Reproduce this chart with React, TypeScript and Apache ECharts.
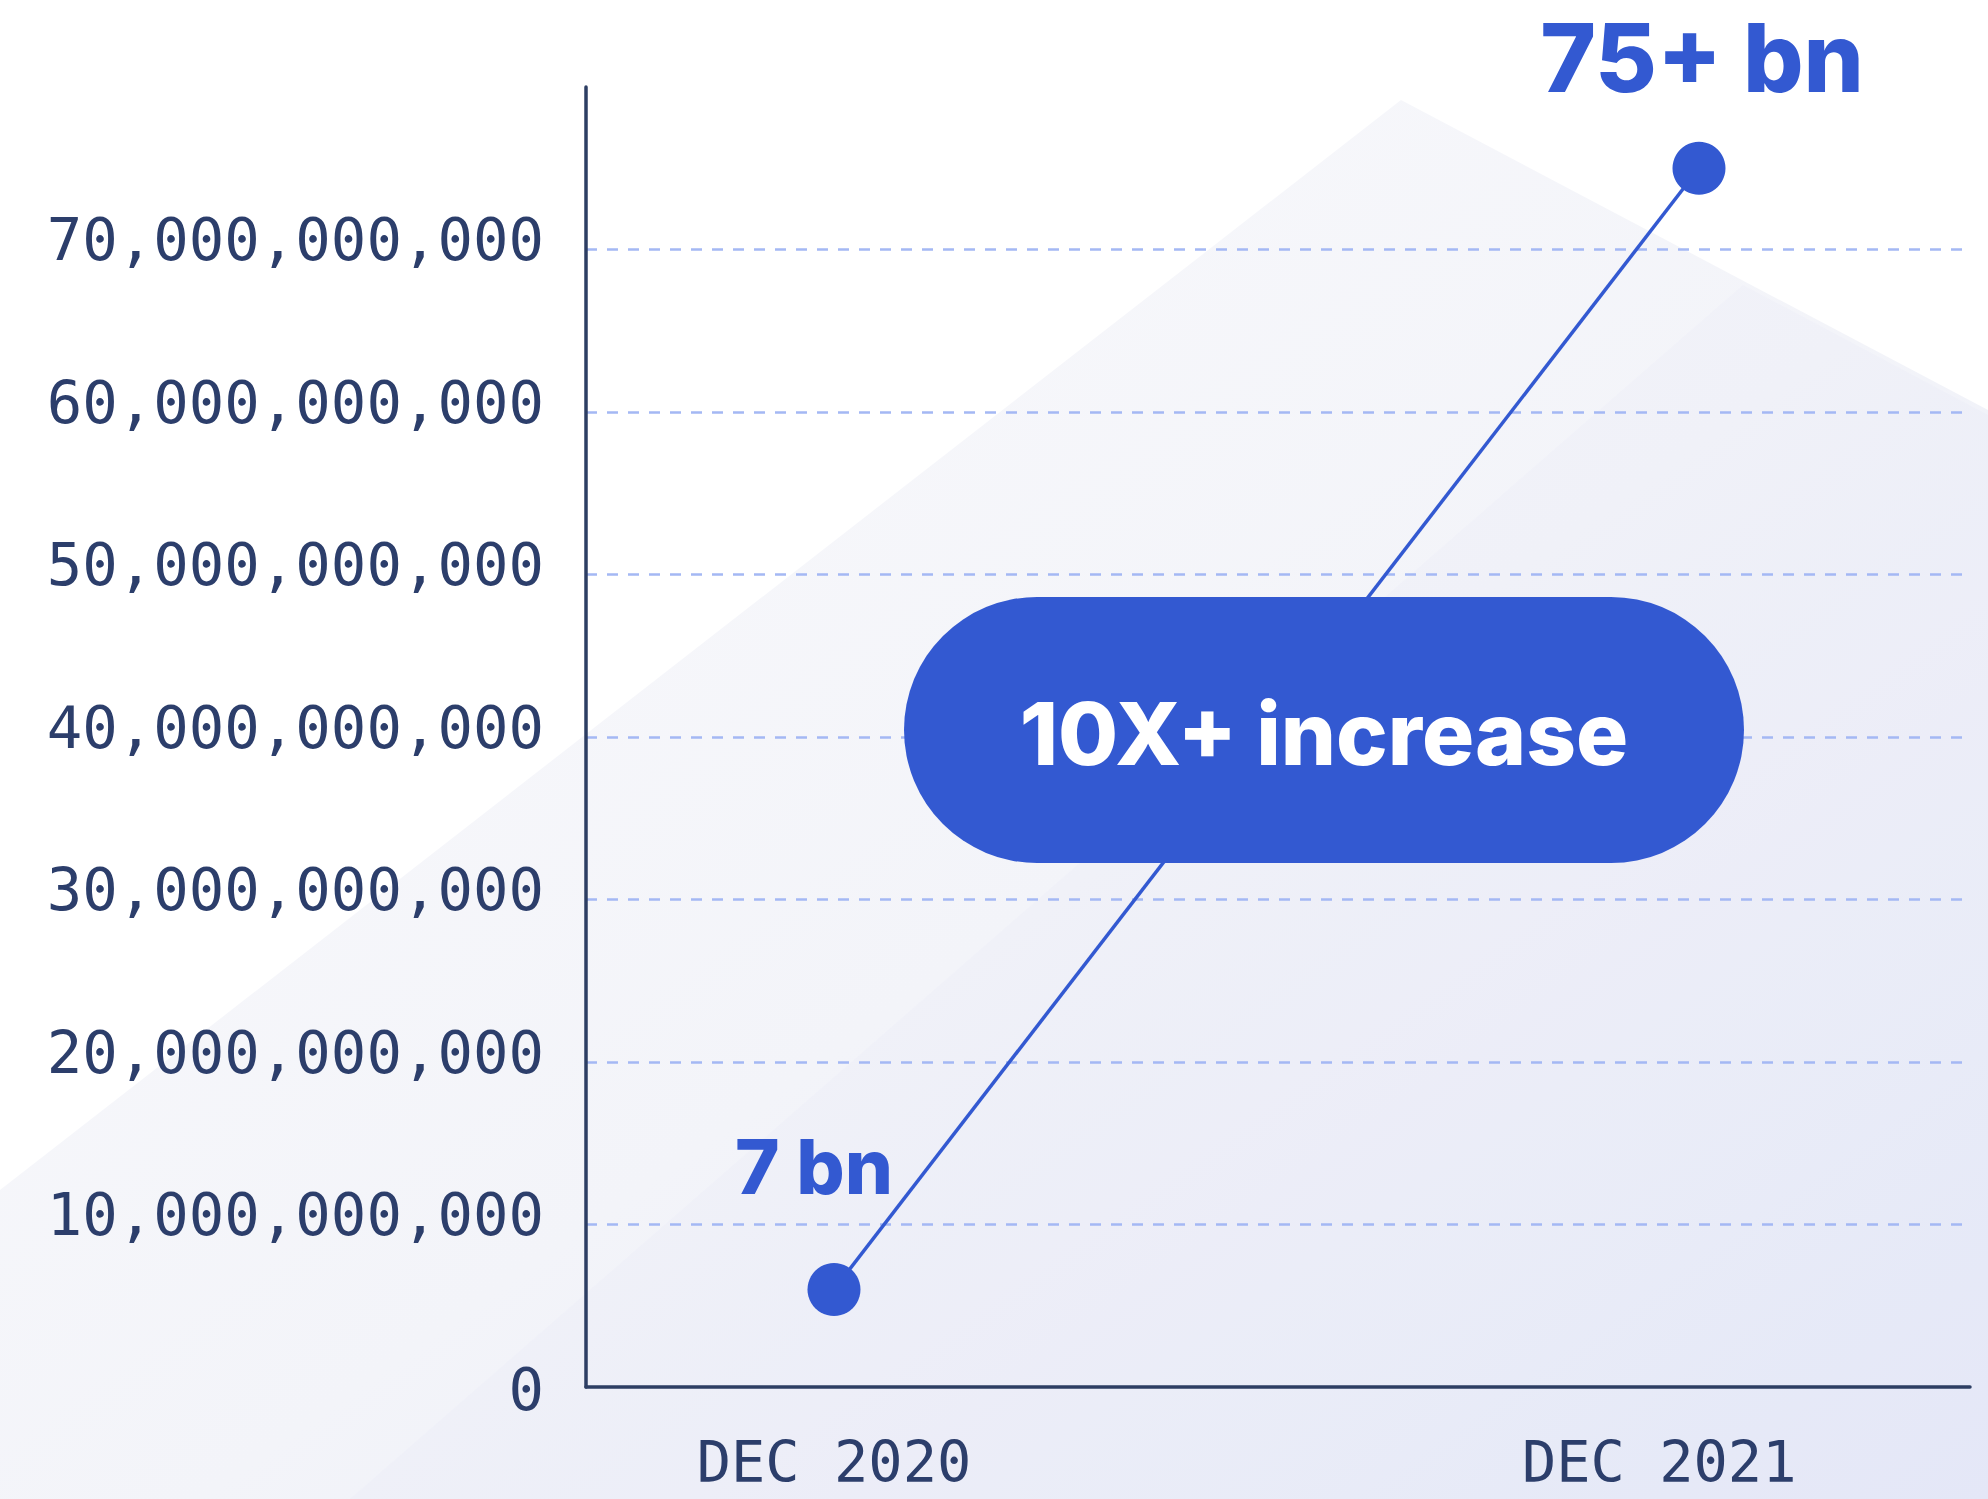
import React, { useEffect, useRef } from "react";
import * as echarts from "echarts";

const categories = ["DEC 2020", "DEC 2021"];
const categoryX = [0, 1];
const values = [6e9, 75e9];
const valueLabels = ["7 bn", "75+ bn"];
const xLabelValues = [0, 0.954];
const yTicks = [0, 10e9, 20e9, 30e9, 40e9, 50e9, 60e9, 70e9];
const calloutText = "10X+ increase";

const W = 1988;
const H = 1499;
const BLUE = "#3359d1";
const NAVY = "#2c3e6b";
const GRID = "#a4b8f4";
const MONO = "'DejaVu Sans Mono', monospace";
const BOLD = "Inter, 'Noto Sans', sans-serif";

export default function App() {
  const ref = useRef<HTMLDivElement>(null);

  useEffect(() => {
    if (!ref.current) return;
    const chart = echarts.init(ref.current, null, { renderer: "svg", width: W, height: H });

    const splitColors = [0, 10e9, 20e9, 30e9, 40e9, 50e9, 60e9, 70e9, 80e9].map((v) =>
      v === 0 || yTicks.indexOf(v) < 0 ? "rgba(0,0,0,0)" : GRID
    );

    const monoStyle = { fontFamily: MONO, fontSize: 59, color: NAVY };

    const option: any = {
      animation: false,
      backgroundColor: "#ffffff",
      grid: { left: 586, right: 18, top: 87, bottom: 112, containLabel: false, outerBoundsMode: "none" },
      xAxis: {
        type: "value",
        min: -0.2867,
        max: 1.3133,
        axisLine: { show: true, onZero: false, lineStyle: { color: "#2d3e63", width: 3.5 } },
        axisTick: { show: false },
        splitLine: { show: false },
        axisLabel: {
          customValues: xLabelValues,
          formatter: (v: number) => (v < 0.5 ? categories[0] : categories[1]),
          margin: 46,
          fontFamily: MONO,
          fontSize: 57,
          lineHeight: 57,
          color: NAVY,
        },
      },
      yAxis: {
        type: "value",
        min: 0,
        max: 80e9,
        interval: 10e9,
        axisLine: { show: true, onZero: false, lineStyle: { color: "#2d3e63", width: 3.5 } },
        axisTick: { show: false },
        axisLabel: {
          showMaxLabel: false,
          margin: 42,
          ...monoStyle,
          formatter: (v: number) =>
            v === 0 ? "{z|0}" : "{n|" + Math.round(v).toLocaleString("en-US") + "}",
          rich: {
            n: { ...monoStyle, padding: [0, 0, 20, 0] },
            z: { ...monoStyle, padding: [4, 0, 0, 0] },
          },
        },
        splitLine: {
          show: true,
          lineStyle: { color: splitColors, type: [11, 10], width: 2.5 },
        },
      },
      graphic: [
        {
          type: "polygon",
          z: -100,
          silent: true,
          shape: { points: [[0, 1190], [1401, 100], [1988, 410], [1988, 1499], [0, 1499]] },
          style: {
            fill: new echarts.graphic.LinearGradient(0, 0, 1, 1, [
              { offset: 0, color: "#fbfbfd" },
              { offset: 0.55, color: "#f3f4f9" },
              { offset: 1, color: "#e5e9f8" },
            ]),
          },
        },
        {
          type: "polygon",
          z: -99,
          silent: true,
          shape: { points: [[1743, 285], [1988, 415], [1988, 1499], [350, 1499]] },
          style: { fill: "rgba(222,226,244,0.12)" },
        },
        {
          type: "rect",
          z: 100,
          shape: { x: 904, y: 597, width: 840, height: 266, r: 133 },
          style: { fill: BLUE },
        },
        {
          type: "text",
          z: 101,
          x: 1324,
          y: 733,
          style: {
            text: calloutText,
            fill: "#ffffff",
            fontFamily: BOLD,
            fontWeight: 800,
            fontSize: 87,
            align: "center",
            verticalAlign: "middle",
          },
        },
      ],
      series: [
        {
          type: "line",
          data: values.map((v, i) => ({
            value: [categoryX[i], v],
            label: {
              show: true,
              formatter: valueLabels[i],
              position: "top",
              distance: i === 0 ? 59 : 37,
              offset: i === 0 ? [-20, 0] : [3, 0],
              fontFamily: BOLD,
              fontWeight: 800,
              fontSize: i === 0 ? 76 : 95,
              color: BLUE,
            },
          })),
          symbol: "circle",
          symbolSize: 53,
          itemStyle: { color: BLUE },
          lineStyle: { color: BLUE, width: 3.5 },
          z: 5,
        },
      ],
    };

    chart.setOption(option);
    return () => chart.dispose();
  }, []);

  return (
    <div
      ref={ref}
      style={{ position: "fixed", left: 0, top: 0, width: W, height: H }}
    />
  );
}
